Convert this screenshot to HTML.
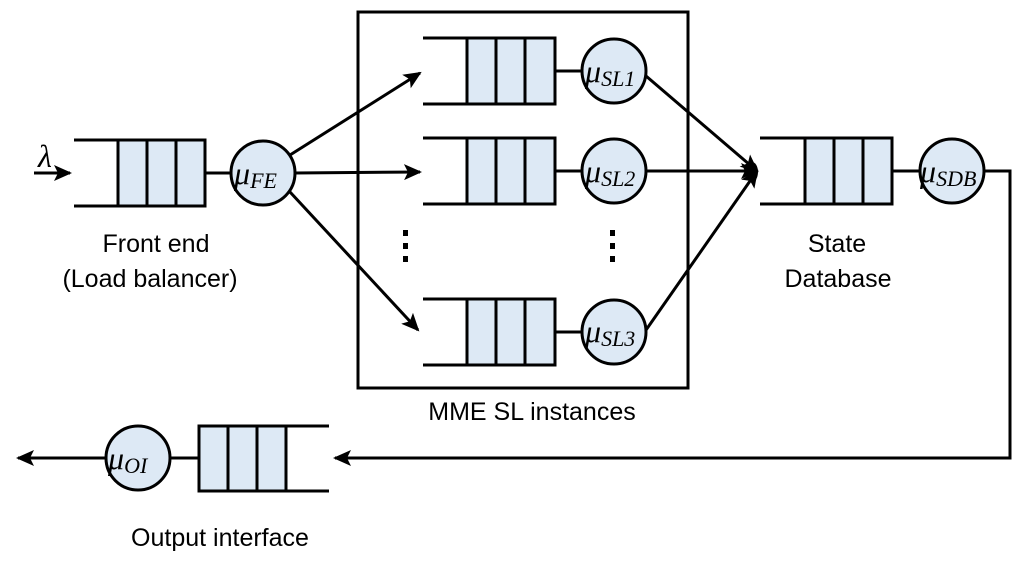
<!DOCTYPE html>
<html><head><style>body{margin:0;background:#fff}svg{display:block}</style></head><body>
<svg width="1024" height="561" xmlns="http://www.w3.org/2000/svg">
<defs>
<marker id="b" markerWidth="20" markerHeight="16" refX="16" refY="8" orient="auto" markerUnits="userSpaceOnUse"><path d="M0,0 L18,8 L0,16 L4,8 Z" fill="#000"/></marker></defs>
<g stroke="#000" stroke-width="3" fill="none">
<line x1="74" y1="140" x2="205" y2="140"/><line x1="74" y1="206" x2="205" y2="206"/>
<rect x="118" y="140" width="87" height="66" fill="#dde9f5"/><line x1="147" y1="140" x2="147" y2="206"/><line x1="176" y1="140" x2="176" y2="206"/>
<line x1="205" y1="173" x2="231" y2="173"/>
<circle cx="263" cy="173" r="32" fill="#dde9f5"/>
<line x1="34" y1="173" x2="70" y2="173" marker-end="url(#b)"/>
<rect x="358" y="12" width="330" height="376"/>
<g id="q1">
<line x1="423" y1="38" x2="555" y2="38"/><line x1="423" y1="104" x2="555" y2="104"/>
<rect x="467" y="38" width="88" height="66" fill="#dde9f5"/><line x1="496" y1="38" x2="496" y2="104"/><line x1="525" y1="38" x2="525" y2="104"/>
<line x1="555" y1="71" x2="582" y2="71"/><circle cx="614" cy="71" r="32" fill="#dde9f5"/>
</g>
<use href="#q1" y="100"/>
<use href="#q1" y="261"/>
<line x1="290" y1="155" x2="420" y2="73" marker-end="url(#b)"/>
<line x1="295" y1="173" x2="420" y2="172" marker-end="url(#b)"/>
<line x1="290" y1="192" x2="418" y2="330" marker-end="url(#b)"/>
<line x1="646" y1="76" x2="757" y2="171" marker-end="url(#b)"/>
<line x1="646" y1="171" x2="757" y2="171" marker-end="url(#b)"/>
<line x1="646" y1="330" x2="757" y2="171" marker-end="url(#b)"/>
<line x1="760" y1="138" x2="892" y2="138"/><line x1="760" y1="204" x2="892" y2="204"/>
<rect x="805" y="138" width="87" height="66" fill="#dde9f5"/><line x1="834" y1="138" x2="834" y2="204"/><line x1="863" y1="138" x2="863" y2="204"/>
<line x1="892" y1="171" x2="919" y2="171"/><circle cx="952" cy="171" r="32" fill="#dde9f5"/>
<polyline points="984,171 1010,171 1010,458 335,458" marker-end="url(#b)"/>
<line x1="199" y1="426" x2="329" y2="426"/><line x1="199" y1="491" x2="329" y2="491"/>
<rect x="199" y="426" width="87" height="65" fill="#dde9f5"/><line x1="228" y1="426" x2="228" y2="491"/><line x1="257" y1="426" x2="257" y2="491"/>
<line x1="170" y1="458" x2="199" y2="458"/><circle cx="138" cy="458" r="32" fill="#dde9f5"/>
<line x1="106" y1="458" x2="18" y2="458" marker-end="url(#b)"/>
</g>
<ellipse cx="752" cy="172" rx="6" ry="10" fill="#000"/>
<g fill="#000"><rect x="403" y="230" width="5" height="6"/><rect x="403" y="243" width="5" height="6"/><rect x="403" y="256" width="5" height="6"/>
<rect x="610" y="230" width="5" height="6"/><rect x="610" y="243" width="5" height="6"/><rect x="610" y="256" width="5" height="6"/></g>
<g font-family="Liberation Serif, serif" font-style="italic" fill="#000">
<text x="38" y="167" font-size="32">λ</text>
<text x="234" y="184" font-size="32">μ<tspan font-size="22" dy="4">FE</tspan></text>
<text x="585" y="82" font-size="32">μ<tspan font-size="22" dy="4">SL1</tspan></text>
<text x="585" y="182" font-size="32">μ<tspan font-size="22" dy="4">SL2</tspan></text>
<text x="585" y="342" font-size="32">μ<tspan font-size="22" dy="4">SL3</tspan></text>
<text x="920" y="182" font-size="32">μ<tspan font-size="22" dy="4">SDB</tspan></text>
<text x="108" y="469" font-size="32">μ<tspan font-size="22" dy="4">OI</tspan></text>
</g>
<g font-family="Liberation Sans, sans-serif" font-size="25" fill="#000" text-anchor="middle">
<text x="156" y="252">Front end</text>
<text x="150" y="287">(Load balancer)</text>
<text x="532" y="420">MME SL instances</text>
<text x="837" y="252">State</text>
<text x="838" y="287">Database</text>
<text x="220" y="546">Output interface</text>
</g>
</svg>
</body></html>
